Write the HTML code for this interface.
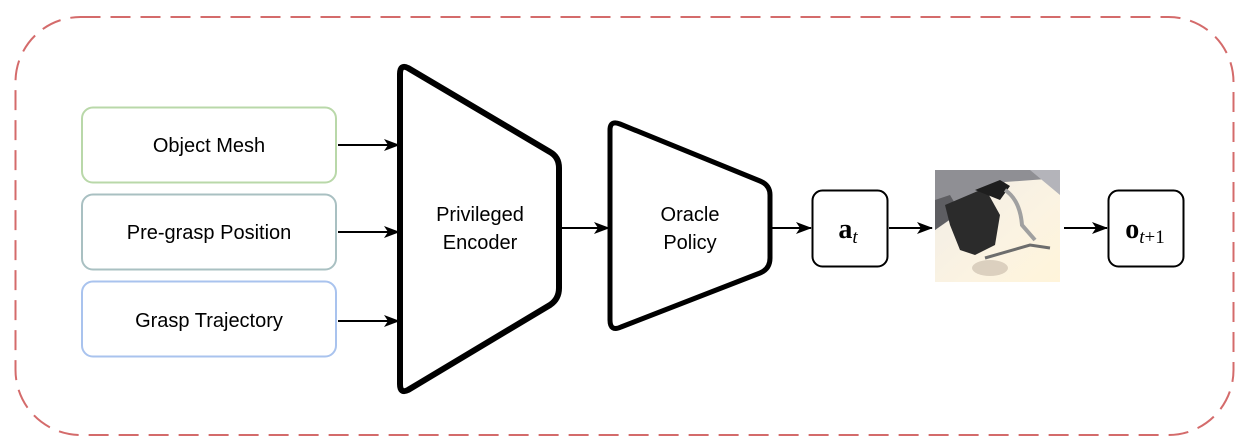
<!DOCTYPE html>
<html><head><meta charset="utf-8"><style>
body{margin:0;background:#fff;}
svg text{font-family:"Liberation Sans",sans-serif;}
</style></head><body>
<svg width="1246" height="442" viewBox="0 0 1246 442" xmlns="http://www.w3.org/2000/svg">
<defs>
<marker id="ah" markerWidth="16" markerHeight="12" refX="15" refY="6" orient="auto" markerUnits="userSpaceOnUse">
<path d="M0,0 L16,6 L0,12 L4,6 Z" fill="#000"/>
</marker>
<linearGradient id="fl" x1="0" y1="0" x2="1" y2="1">
<stop offset="0" stop-color="#f0ece6"/><stop offset="0.6" stop-color="#fbf3e2"/><stop offset="1" stop-color="#fff4da"/>
</linearGradient>
</defs>
<rect x="15.5" y="17" width="1218" height="418" rx="65" fill="none" stroke="#d46b6b" stroke-width="2" stroke-dasharray="20,10"/>
<rect x="82" y="107.5" width="254" height="75" rx="11" fill="#fff" stroke="#b9d8a9" stroke-width="2"/>
<rect x="82" y="194.5" width="254" height="75" rx="11" fill="#fff" stroke="#a9c0c2" stroke-width="2"/>
<rect x="82" y="281.5" width="254" height="75" rx="11" fill="#fff" stroke="#a9c3ee" stroke-width="2"/>
<text x="209" y="152" font-size="20" text-anchor="middle">Object Mesh</text>
<text x="209" y="239" font-size="20" text-anchor="middle">Pre-grasp Position</text>
<text x="209" y="327" font-size="20" text-anchor="middle">Grasp Trajectory</text>
<g stroke="#000" stroke-width="2" fill="none" marker-end="url(#ah)">
<line x1="338" y1="145" x2="399" y2="145"/>
<line x1="338" y1="232" x2="399" y2="232"/>
<line x1="338" y1="321" x2="399" y2="321"/>
<line x1="562" y1="228" x2="609" y2="228"/>
<line x1="772" y1="228" x2="811" y2="228"/>
<line x1="889" y1="228" x2="932" y2="228"/>
<line x1="1064" y1="228" x2="1107" y2="228"/>
</g>
<path d="M408,68 Q400,64 400,74 L400,384 Q400,394 408,390 L550,305 Q559,299 559,288 L559,168 Q559,157 550,152 Z" fill="#fff" stroke="#000" stroke-width="6" stroke-linejoin="round"/>
<text x="480" y="221" font-size="20" text-anchor="middle">Privileged</text>
<text x="480" y="249" font-size="20" text-anchor="middle">Encoder</text>
<path d="M620,124 Q610,120 610,130 L610,320 Q610,332 621,327 L760,273 Q770,269 770,258 L770,195 Q770,185 760,181 Z" fill="#fff" stroke="#000" stroke-width="5" stroke-linejoin="round"/>
<text x="690" y="221" font-size="20" text-anchor="middle">Oracle</text>
<text x="690" y="249" font-size="20" text-anchor="middle">Policy</text>
<rect x="812.5" y="190.5" width="75" height="76" rx="10" fill="#fff" stroke="#000" stroke-width="2"/>
<text x="848" y="238" font-size="28" text-anchor="middle" font-weight="bold" style="font-family:'Liberation Serif',serif">a<tspan font-size="19" font-weight="normal" font-style="italic" dy="5">t</tspan></text>
<rect x="1108.5" y="190.5" width="75" height="76" rx="10" fill="#fff" stroke="#000" stroke-width="2"/>
<text x="1145" y="238" font-size="28" text-anchor="middle" font-weight="bold" style="font-family:'Liberation Serif',serif">o<tspan font-size="19" font-weight="normal" font-style="italic" dy="5">t</tspan><tspan font-size="19" font-weight="normal">+1</tspan></text>
<g>
<rect x="935" y="170" width="125" height="112" fill="url(#fl)"/>
<polygon points="935,170 1060,170 1060,178 1005,182 935,230" fill="#8f8f94"/>
<polygon points="1030,170 1060,170 1060,195" fill="#b4b4ba"/>
<polygon points="935,230 960,212 950,195 935,200" fill="#5e5e62"/>
<path d="M945,205 L985,188 L1000,215 L995,245 L975,255 L960,250 L950,225 Z" fill="#2b2b2b"/>
<path d="M975,190 L1000,180 L1010,186 L1000,200 Z" fill="#1e1e1e"/>
<path d="M1005,190 Q1020,200 1022,225 L1035,240" stroke="#a0a0a0" stroke-width="4" fill="none"/>
<path d="M985,258 L1030,245 L1050,248" stroke="#6d6d6d" stroke-width="3" fill="none"/>
<ellipse cx="990" cy="268" rx="18" ry="8" fill="#c7b9a8" opacity="0.6"/>
</g>
</svg>
</body></html>
